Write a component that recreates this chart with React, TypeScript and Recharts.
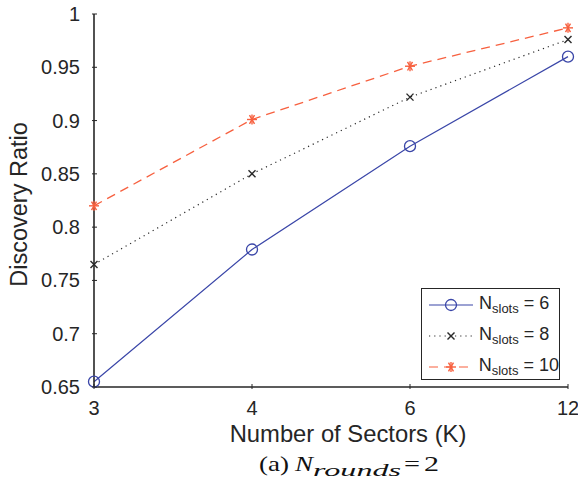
import React from 'react';
import { LineChart, Line, XAxis, YAxis, Legend } from 'recharts';

const sectors = ['3', '4', '6', '12'];
const slots6 = [0.655, 0.779, 0.876, 0.96];
const slots8 = [0.765, 0.85, 0.922, 0.976];
const slots10 = [0.82, 0.901, 0.951, 0.987];
const yTicks = [0.65, 0.7, 0.75, 0.8, 0.85, 0.9, 0.95, 1];
const slotCounts = [6, 8, 10];

const BLUE = '#3a46a8';
const BLACK = '#2a2a2a';
const RED = '#f7603f';
const FRAME = '#262626';
const FONT = '"Liberation Sans", Arial, Helvetica, sans-serif';
const SERIF = '"Liberation Serif", "DejaVu Serif", serif';
const TICK_LEN = 5;

const data = sectors.map((k, i) => ({
  k,
  s6: slots6[i],
  s8: slots8[i],
  s10: slots10[i],
}));

const Circle = ({ cx, cy }: any) => (
  <circle cx={cx} cy={cy} r={5.5} fill="none" stroke={BLUE} strokeWidth={1.3} />
);

const Cross = ({ cx, cy }: any) => (
  <g stroke={BLACK} strokeWidth={1.4}>
    <line x1={cx - 3.5} y1={cy - 3.5} x2={cx + 3.5} y2={cy + 3.5} />
    <line x1={cx - 3.5} y1={cy + 3.5} x2={cx + 3.5} y2={cy - 3.5} />
  </g>
);

const Star = ({ cx, cy }: any) => (
  <g stroke={RED} strokeWidth={1.4}>
    <line x1={cx - 5} y1={cy} x2={cx + 5} y2={cy} />
    <line x1={cx - 2.5} y1={cy - 4.3} x2={cx + 2.5} y2={cy + 4.3} />
    <line x1={cx - 2.5} y1={cy + 4.3} x2={cx + 2.5} y2={cy - 4.3} />
    <line x1={cx} y1={cy - 5} x2={cx} y2={cy + 5} />
  </g>
);

const markers = [Circle, Cross, Star];
const colors = [BLUE, BLACK, RED];
const dashes = [undefined, '1.2 4', '9 6'];

const LeftTick = ({ x, y, payload }: any) => (
  <g>
    <line x1={x} y1={y} x2={x + TICK_LEN} y2={y} stroke={FRAME} strokeWidth={1} />
    <text x={x - 12} y={y} dy={7} textAnchor="end" fontSize={20} fill={FRAME} fontFamily={FONT}>
      {payload.value}
    </text>
  </g>
);

const RightTick = ({ x, y }: any) => (
  <line x1={x} y1={y} x2={x - TICK_LEN} y2={y} stroke={FRAME} strokeWidth={1} />
);

const BottomTick = ({ x, y, payload }: any) => (
  <g>
    <line x1={x} y1={y} x2={x} y2={y - TICK_LEN} stroke={FRAME} strokeWidth={1} />
    <text x={x} y={y + 26} textAnchor="middle" fontSize={20} fill={FRAME} fontFamily={FONT}>
      {payload.value}
    </text>
  </g>
);

const TopTick = ({ x, y }: any) => (
  <line x1={x} y1={y} x2={x} y2={y + TICK_LEN} stroke={FRAME} strokeWidth={1} />
);

// axis title plus the "(a) N_rounds = 2" caption underneath
const XLabel = ({ viewBox }: any) => {
  const cx = viewBox.x + viewBox.width / 2;
  const base = viewBox.y + 84;
  return (
    <g fill="#111" fontFamily={SERIF}>
      <text x={cx + 17} y={viewBox.y + 55} textAnchor="middle" fontSize={23.8} fill={FRAME} fontFamily={FONT}>
        Number of Sectors (K)
      </text>
      <text x={cx - 72} y={base} fontSize={21} textLength={30} lengthAdjust="spacingAndGlyphs">
        (a)
      </text>
      <text x={cx - 36} y={base} fontSize={20} fontStyle="italic" textLength={18} lengthAdjust="spacingAndGlyphs">
        N
      </text>
      <text x={cx - 18} y={base + 5} fontSize={16} fontStyle="italic" textLength={88} lengthAdjust="spacingAndGlyphs">
        rounds
      </text>
      <text x={cx + 73} y={base} fontSize={20} textLength={16} lengthAdjust="spacingAndGlyphs">
        =
      </text>
      <text x={cx + 93} y={base} fontSize={21} textLength={15} lengthAdjust="spacingAndGlyphs">
        2
      </text>
    </g>
  );
};

const YLabel = ({ viewBox }: any) => {
  const x = viewBox.x + 27;
  const y = viewBox.y + viewBox.height / 2 + 4;
  return (
    <text
      x={x}
      y={y}
      transform={`rotate(-90 ${x} ${y})`}
      textAnchor="middle"
      fontSize={23.5}
      fill={FRAME}
      fontFamily={FONT}
    >
      Discovery Ratio
    </text>
  );
};

const LegendBox = () => (
  <div
    style={{
      width: 137,
      height: 90,
      border: `1.5px solid ${FRAME}`,
      background: '#fff',
      fontFamily: FONT,
      color: FRAME,
      boxSizing: 'content-box',
    }}
  >
    {slotCounts.map((n, i) => {
      const Marker = markers[i];
      return (
        <div key={n} style={{ display: 'flex', alignItems: 'center', height: 31 }}>
          <svg width={52} height={20} style={{ marginLeft: 5 }}>
            <line
              x1={2}
              y1={10}
              x2={46}
              y2={10}
              stroke={colors[i]}
              strokeWidth={1.2}
              strokeDasharray={dashes[i]}
            />
            <Marker cx={24} cy={10} />
          </svg>
          <span style={{ fontSize: 18, whiteSpace: 'nowrap' }}>
            N<sub style={{ fontSize: 13, verticalAlign: -4 }}>slots</sub> = {n}
          </span>
        </div>
      );
    })}
  </div>
);

export default function App() {
  return (
    <div style={{ position: 'absolute', left: 0, top: 0, width: 578, height: 484, background: '#fff' }}>
      <LineChart width={578} height={484} data={data} margin={{ top: 14, right: 10, bottom: 0, left: 0 }}>
        <XAxis
          dataKey="k"
          interval={0}
          height={97}
          tickSize={0}
          tickLine={false}
          tick={<BottomTick />}
          axisLine={{ stroke: FRAME, strokeWidth: 1.6 }}
          label={<XLabel />}
        />
        <XAxis
          xAxisId="top"
          dataKey="k"
          orientation="top"
          interval={0}
          height={0}
          tickSize={0}
          tickLine={false}
          tick={<TopTick />}
          axisLine={{ stroke: FRAME, strokeWidth: 1.6 }}
        />
        <YAxis
          domain={[0.65, 1]}
          ticks={yTicks}
          width={94}
          tickSize={0}
          tickLine={false}
          tick={<LeftTick />}
          axisLine={{ stroke: FRAME, strokeWidth: 1.6 }}
          label={<YLabel />}
        />
        <YAxis
          yAxisId="right"
          orientation="right"
          domain={[0.65, 1]}
          ticks={yTicks}
          width={0}
          tickSize={0}
          tickLine={false}
          tick={<RightTick />}
          axisLine={{ stroke: FRAME, strokeWidth: 1.6 }}
        />
        <Legend
          layout="vertical"
          align="center"
          verticalAlign="middle"
          content={<LegendBox />}
          wrapperStyle={{ left: 421, top: 288, width: 140 }}
        />
        <Line
          dataKey="s6"
          stroke={BLUE}
          strokeWidth={1.2}
          dot={<Circle />}
          activeDot={false}
          isAnimationActive={false}
        />
        <Line
          dataKey="s8"
          stroke={BLACK}
          strokeWidth={1.2}
          strokeDasharray="1.2 4"
          dot={<Cross />}
          activeDot={false}
          isAnimationActive={false}
        />
        <Line
          dataKey="s10"
          stroke={RED}
          strokeWidth={1.3}
          strokeDasharray="9 6"
          dot={<Star />}
          activeDot={false}
          isAnimationActive={false}
        />
      </LineChart>
    </div>
  );
}
